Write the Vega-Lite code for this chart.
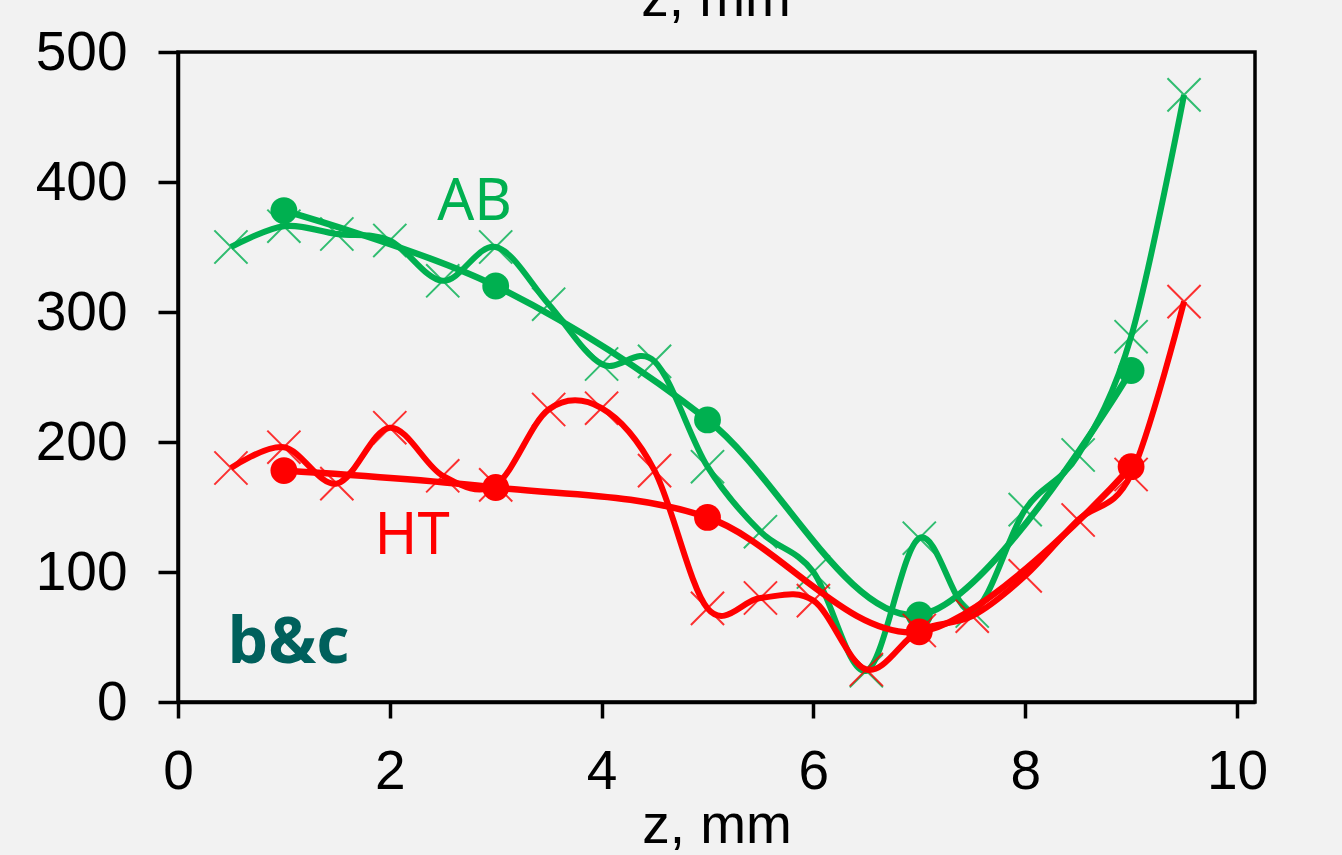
{
  "$schema": "https://vega.github.io/schema/vega-lite/v6.json",
  "autosize": {"type": "none"},
  "padding": {"left": 178, "top": 52, "right": 87, "bottom": 153},
  "width": 1077,
  "height": 650,
  "background": "#f2f2f2",
  "config": {
    "view": {"stroke": "#000000", "strokeWidth": 3.5},
    "axis": {
      "grid": false,
      "labelFlush": false,
      "domainColor": "#000000",
      "domainWidth": 3.5,
      "tickColor": "#000000",
      "tickWidth": 3.5,
      "labelFont": "Liberation Sans",
      "labelFontSize": 55,
      "labelColor": "#000000",
      "titleFont": "Liberation Sans",
      "titleFontSize": 55,
      "titleFontWeight": "normal",
      "titleColor": "#000000"
    }
  },
  "datasets": {
    "series": [
      {"set": "AB", "kind": "x", "z": 0.5, "v": 350},
      {"set": "AB", "kind": "x", "z": 1.0, "v": 366},
      {"set": "AB", "kind": "x", "z": 1.5, "v": 360},
      {"set": "AB", "kind": "x", "z": 2.0, "v": 355},
      {"set": "AB", "kind": "x", "z": 2.5, "v": 324},
      {"set": "AB", "kind": "x", "z": 3.0, "v": 350},
      {"set": "AB", "kind": "x", "z": 3.5, "v": 306},
      {"set": "AB", "kind": "x", "z": 4.0, "v": 260},
      {"set": "AB", "kind": "x", "z": 4.5, "v": 262},
      {"set": "AB", "kind": "x", "z": 5.0, "v": 181},
      {"set": "AB", "kind": "x", "z": 5.5, "v": 131},
      {"set": "AB", "kind": "x", "z": 6.0, "v": 100},
      {"set": "AB", "kind": "x", "z": 6.5, "v": 24},
      {"set": "AB", "kind": "x", "z": 7.0, "v": 126},
      {"set": "AB", "kind": "x", "z": 7.5, "v": 70},
      {"set": "AB", "kind": "x", "z": 8.0, "v": 148},
      {"set": "AB", "kind": "x", "z": 8.5, "v": 190},
      {"set": "AB", "kind": "x", "z": 9.0, "v": 281},
      {"set": "AB", "kind": "x", "z": 9.5, "v": 467},
      {"set": "AB", "kind": "o", "z": 1, "v": 378},
      {"set": "AB", "kind": "o", "z": 3, "v": 320},
      {"set": "AB", "kind": "o", "z": 5, "v": 217},
      {"set": "AB", "kind": "o", "z": 7, "v": 67},
      {"set": "AB", "kind": "o", "z": 9, "v": 255},
      {"set": "HT", "kind": "x", "z": 0.5, "v": 180},
      {"set": "HT", "kind": "x", "z": 1.0, "v": 196},
      {"set": "HT", "kind": "x", "z": 1.5, "v": 168},
      {"set": "HT", "kind": "x", "z": 2.0, "v": 211},
      {"set": "HT", "kind": "x", "z": 2.5, "v": 174},
      {"set": "HT", "kind": "x", "z": 3.0, "v": 167},
      {"set": "HT", "kind": "x", "z": 3.5, "v": 225},
      {"set": "HT", "kind": "x", "z": 4.0, "v": 226},
      {"set": "HT", "kind": "x", "z": 4.5, "v": 178},
      {"set": "HT", "kind": "x", "z": 5.0, "v": 72},
      {"set": "HT", "kind": "x", "z": 5.5, "v": 80},
      {"set": "HT", "kind": "x", "z": 6.0, "v": 78},
      {"set": "HT", "kind": "x", "z": 6.5, "v": 25},
      {"set": "HT", "kind": "x", "z": 7.0, "v": 55},
      {"set": "HT", "kind": "x", "z": 7.5, "v": 66},
      {"set": "HT", "kind": "x", "z": 8.0, "v": 97},
      {"set": "HT", "kind": "x", "z": 8.5, "v": 140},
      {"set": "HT", "kind": "x", "z": 9.0, "v": 175},
      {"set": "HT", "kind": "x", "z": 9.5, "v": 308},
      {"set": "HT", "kind": "o", "z": 1, "v": 178},
      {"set": "HT", "kind": "o", "z": 3, "v": 165},
      {"set": "HT", "kind": "o", "z": 5, "v": 142},
      {"set": "HT", "kind": "o", "z": 7, "v": 54},
      {"set": "HT", "kind": "o", "z": 9, "v": 181}
    ],
    "notes": [
      {"label": "AB", "set": "AB", "z": 2.8, "v": 371},
      {"label": "HT", "set": "HT", "z": 2.21, "v": 114}
    ]
  },
  "layer": [
    {
      "data": {"name": "series"},
      "encoding": {
        "x": {
          "field": "z", "type": "quantitative",
          "scale": {"domain": [0, 10.17], "nice": false, "zero": false},
          "axis": {"values": [0, 2, 4, 6, 8, 10], "format": "d", "tickSize": 16, "labelPadding": 27, "title": "z, mm", "titlePadding": 0}
        },
        "y": {
          "field": "v", "type": "quantitative",
          "scale": {"domain": [0, 500], "nice": false},
          "axis": {"values": [0, 100, 200, 300, 400, 500], "format": "d", "tickSize": 20, "labelPadding": 31, "title": null}
        }
      },
      "layer": [
        {
          "transform": [{"filter": "datum.set === 'AB' && datum.kind === 'x'"}],
          "mark": {"type": "line", "color": "#00b050", "strokeWidth": 6, "interpolate": "cardinal"}
        },
        {
          "transform": [{"filter": "datum.set === 'AB' && datum.kind === 'x'"}],
          "mark": {"type": "point", "shape": "M-1,-1L1,1M1,-1L-1,1", "filled": false, "color": "#00b050", "strokeWidth": 2, "size": 1100, "opacity": 0.8}
        },
        {
          "transform": [{"filter": "datum.set === 'AB' && datum.kind === 'o'"}],
          "mark": {"type": "line", "color": "#00b050", "strokeWidth": 6.5, "interpolate": "cardinal"}
        },
        {
          "transform": [{"filter": "datum.set === 'AB' && datum.kind === 'o'"}],
          "mark": {"type": "circle", "color": "#00b050", "size": 720, "opacity": 1}
        },
        {
          "transform": [{"filter": "datum.set === 'HT' && datum.kind === 'x'"}],
          "mark": {"type": "line", "color": "#ff0000", "strokeWidth": 6, "interpolate": "cardinal"}
        },
        {
          "transform": [{"filter": "datum.set === 'HT' && datum.kind === 'x'"}],
          "mark": {"type": "point", "shape": "M-1,-1L1,1M1,-1L-1,1", "filled": false, "color": "#ff0000", "strokeWidth": 2, "size": 1100, "opacity": 0.8}
        },
        {
          "transform": [{"filter": "datum.set === 'HT' && datum.kind === 'o'"}],
          "mark": {"type": "line", "color": "#ff0000", "strokeWidth": 6.5, "interpolate": "cardinal"}
        },
        {
          "transform": [{"filter": "datum.set === 'HT' && datum.kind === 'o'"}],
          "mark": {"type": "circle", "color": "#ff0000", "size": 720, "opacity": 1}
        }
      ]
    },
    {
      "data": {"name": "notes"},
      "mark": {"type": "text", "font": "Noto Sans", "fontSize": 58, "align": "center", "baseline": "alphabetic"},
      "encoding": {
        "text": {"field": "label", "type": "nominal"},
        "x": {"field": "z", "type": "quantitative"},
        "y": {"field": "v", "type": "quantitative"},
        "color": {"field": "set", "type": "nominal", "scale": {"domain": ["AB", "HT"], "range": ["#00b050", "#ff0000"]}, "legend": null}
      }
    },
    {
      "data": {"values": [{"label": "b&c", "z": 0.47, "v": 30}]},
      "mark": {"type": "text", "font": "Noto Sans", "fontWeight": "bold", "fontSize": 64, "color": "#00605c", "align": "left", "baseline": "alphabetic"},
      "encoding": {
        "text": {"field": "label", "type": "nominal"},
        "x": {"field": "z", "type": "quantitative"},
        "y": {"field": "v", "type": "quantitative"}
      }
    },
    {
      "data": {"values": [{"label": "z, mm", "z": 5.08, "v": 528}]},
      "mark": {"type": "text", "font": "Liberation Sans", "fontSize": 55, "color": "#000000", "align": "center", "baseline": "alphabetic"},
      "encoding": {
        "text": {"field": "label", "type": "nominal"},
        "x": {"field": "z", "type": "quantitative"},
        "y": {"field": "v", "type": "quantitative"}
      }
    }
  ]
}
